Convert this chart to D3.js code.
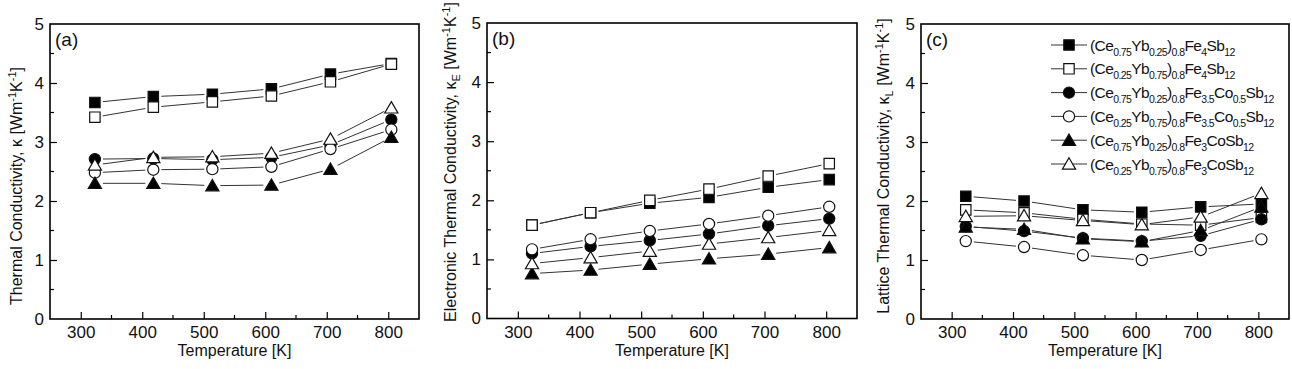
<!DOCTYPE html>
<html>
<head>
<meta charset="utf-8">
<script src="https://cdn.jsdelivr.net/npm/d3@7.9.0/dist/d3.min.js"></script>
<style>
  body { margin: 0; background: #fff; }
  svg { font-family: "Liberation Sans", Arial, sans-serif; }
  .axis path, .axis line { stroke: #000; }
  .axis text { font-size: 17px; fill: #111; }
</style>
</head>
<body>
<svg id="chart" width="1292" height="369"></svg>
<script>
// temperatures [K]
const temps = [323, 418, 514, 610, 706, 805];

// legend labels, _{..} = subscript
const seriesLabels = [
  '(Ce_{0.75}Yb_{0.25})_{0.8}Fe_{4}Sb_{12}',
  '(Ce_{0.25}Yb_{0.75})_{0.8}Fe_{4}Sb_{12}',
  '(Ce_{0.75}Yb_{0.25})_{0.8}Fe_{3.5}Co_{0.5}Sb_{12}',
  '(Ce_{0.25}Yb_{0.75})_{0.8}Fe_{3.5}Co_{0.5}Sb_{12}',
  '(Ce_{0.75}Yb_{0.25})_{0.8}Fe_{3}CoSb_{12}',
  '(Ce_{0.25}Yb_{0.75})_{0.8}Fe_{3}CoSb_{12}'
];
const seriesShapes = ['square', 'square', 'circle', 'circle', 'triangle', 'triangle'];
const seriesFilled = [true, false, true, false, true, false];

// (a) total thermal conductivity
const kTotal = [
  [3.67, 3.77, 3.81, 3.90, 4.15, 4.33],
  [3.42, 3.59, 3.68, 3.78, 4.02, 4.32],
  [2.71, 2.72, 2.70, 2.74, 2.95, 3.38],
  [2.48, 2.53, 2.54, 2.58, 2.88, 3.21],
  [2.30, 2.30, 2.26, 2.27, 2.54, 3.08],
  [2.61, 2.74, 2.75, 2.81, 3.05, 3.58]
];
// (b) electronic thermal conductivity
const kElec = [
  [1.58, 1.79, 1.95, 2.05, 2.22, 2.35],
  [1.58, 1.79, 2.00, 2.19, 2.41, 2.62],
  [1.10, 1.22, 1.32, 1.43, 1.57, 1.69],
  [1.17, 1.34, 1.48, 1.60, 1.74, 1.89],
  [0.76, 0.82, 0.92, 1.01, 1.09, 1.20],
  [0.93, 1.03, 1.14, 1.26, 1.37, 1.49]
];
// (c) lattice thermal conductivity
const kLatt = [
  [2.08, 2.00, 1.85, 1.81, 1.90, 1.95],
  [1.85, 1.80, 1.69, 1.61, 1.59, 1.72],
  [1.57, 1.49, 1.37, 1.32, 1.41, 1.69],
  [1.32, 1.22, 1.08, 1.00, 1.17, 1.35],
  [1.56, 1.52, 1.36, 1.31, 1.50, 1.90],
  [1.74, 1.75, 1.67, 1.60, 1.73, 2.13]
];

const xTicks = [300, 400, 500, 600, 700, 800];
const yTicks = [0, 1, 2, 3, 4, 5];

const panels = [
  { tag: '(a)', data: kTotal, left: 50, right: 419, top: 24, bottom: 319,
    ytitle: 'Thermal Conductivity, κ [Wm^{-1}K^{-1}]', ytx: 21.5, yty: 186 },
  { tag: '(b)', data: kElec, left: 487, right: 857, top: 23, bottom: 318.5,
    ytitle: 'Electronic Thermal Conductivity, κ_{E} [Wm^{-1}K^{-1}]', ytx: 456, yty: 162 },
  { tag: '(c)', data: kLatt, left: 921, right: 1289, top: 24, bottom: 319,
    ytitle: 'Lattice Thermal Conductivity, κ_{L} [Wm^{-1}K^{-1}]', ytx: 889, yty: 166 }
];

const svg = d3.select('#chart');

// split "a_{b}c^{d}" into pieces
function parseRich(str) {
  const parts = [];
  const re = /([_^])\{([^}]*)\}/g;
  let last = 0, m;
  while ((m = re.exec(str)) !== null) {
    if (m.index > last) parts.push({ t: str.slice(last, m.index), k: '' });
    parts.push({ t: m[2], k: m[1] });
    last = re.lastIndex;
  }
  if (last < str.length) parts.push({ t: str.slice(last), k: '' });
  return parts;
}

function richText(sel, str, size, small, subShift, supShift) {
  let offset = 0;
  parseRich(str).forEach(p => {
    let target = p.k === '_' ? subShift : p.k === '^' ? -supShift : 0;
    sel.append('tspan')
      .attr('dy', target - offset)
      .attr('font-size', p.k ? small : size)
      .text(p.t);
    offset = target;
  });
}

function markerPath(shape) {
  if (shape === 'square') return 'M-5.2,-5.2H5.2V5.2H-5.2Z';
  if (shape === 'circle') return d3.arc()({ innerRadius: 0, outerRadius: 5.6, startAngle: 0, endAngle: 2 * Math.PI });
  return 'M0,-6.2L6.6,5.2L-6.6,5.2Z';
}

function drawMarker(g, shape, filled, x, y) {
  g.append('path')
    .attr('d', markerPath(shape))
    .attr('transform', `translate(${x},${y})`)
    .attr('fill', filled ? '#000' : '#fff')
    .attr('stroke', '#111')
    .attr('stroke-width', 1.2);
}

panels.forEach(p => {
  const x = d3.scaleLinear().domain([250, 850]).range([p.left, p.right]);
  const y = d3.scaleLinear().domain([0, 5]).range([p.bottom, p.top]);
  const g = svg.append('g');

  // minor ticks
  const xMinor = d3.range(350, 800, 100);
  const yMinor = d3.range(0.5, 5, 1);
  g.selectAll('.xminor').data(xMinor).join('line')
    .attr('x1', d => x(d)).attr('x2', d => x(d))
    .attr('y1', p.bottom).attr('y2', p.bottom - 4)
    .attr('stroke', '#000').attr('stroke-width', 1.2);
  g.selectAll('.yminor').data(yMinor).join('line')
    .attr('y1', d => y(d)).attr('y2', d => y(d))
    .attr('x1', p.left).attr('x2', p.left + 4)
    .attr('stroke', '#000').attr('stroke-width', 1.2);

  // axes with inward ticks
  const xAxis = g.append('g').attr('class', 'axis')
    .attr('transform', `translate(0,${p.bottom})`)
    .call(d3.axisBottom(x).tickValues(xTicks).tickSize(-7).tickPadding(7).tickSizeOuter(0));
  const yAxis = g.append('g').attr('class', 'axis')
    .attr('transform', `translate(${p.left},0)`)
    .call(d3.axisLeft(y).tickValues(yTicks).tickSize(-7).tickPadding(6).tickSizeOuter(0)
      .tickFormat(d3.format('d')));
  [xAxis, yAxis].forEach(a => {
    a.select('.domain').remove();
    a.selectAll('line').attr('stroke-width', 1.2);
    a.selectAll('text').attr('font-family', '"Liberation Sans", Arial, sans-serif');
  });
  yAxis.selectAll('.tick').filter(d => d === 0 || d === 5).select('line').remove();

  // frame
  g.append('rect')
    .attr('x', p.left).attr('y', p.top)
    .attr('width', p.right - p.left).attr('height', p.bottom - p.top)
    .attr('fill', 'none').attr('stroke', '#000').attr('stroke-width', 1.6);

  // series: shortened connecting lines, then symbols
  p.data.forEach((vals, si) => {
    const pts = vals.map((v, i) => [x(temps[i]), y(v)]);
    for (let i = 0; i < pts.length - 1; i++) {
      const [x1, y1] = pts[i], [x2, y2] = pts[i + 1];
      const len = Math.hypot(x2 - x1, y2 - y1);
      const gap = 8;
      if (len <= 2 * gap) continue;
      const ux = (x2 - x1) / len, uy = (y2 - y1) / len;
      g.append('line')
        .attr('x1', x1 + ux * gap).attr('y1', y1 + uy * gap)
        .attr('x2', x2 - ux * gap).attr('y2', y2 - uy * gap)
        .attr('stroke', '#333').attr('stroke-width', 1);
    }
    pts.forEach(([px, py]) => drawMarker(g, seriesShapes[si], seriesFilled[si], px, py));
  });

  // panel tag
  g.append('text')
    .attr('x', p.left + 5).attr('y', p.top + 22)
    .attr('font-size', 19).attr('fill', '#111')
    .text(p.tag);

  // x title
  g.append('text')
    .attr('x', (p.left + p.right) / 2).attr('y', 356)
    .attr('text-anchor', 'middle').attr('font-size', 16).attr('fill', '#111')
    .text('Temperature [K]');

  // y title
  const yt = g.append('text')
    .attr('transform', `translate(${p.ytx},${p.yty}) rotate(-90)`)
    .attr('text-anchor', 'middle').attr('fill', '#111');
  richText(yt, p.ytitle, 16, 11, 4, 6);
});

// legend in panel (c)
const leg = svg.append('g');
seriesLabels.forEach((lab, i) => {
  const cy = 45 + i * 23.8;
  leg.append('line')
    .attr('x1', 1051).attr('x2', 1087).attr('y1', cy).attr('y2', cy)
    .attr('stroke', '#333').attr('stroke-width', 1);
  drawMarker(leg, seriesShapes[i], seriesFilled[i], 1069, cy);
  const t = leg.append('text')
    .attr('x', 1090).attr('y', cy + 5.5)
    .attr('fill', '#111').attr('letter-spacing', -0.6);
  richText(t, lab, 15.5, 10.5, 5, 5);
});
</script>
</body>
</html>
